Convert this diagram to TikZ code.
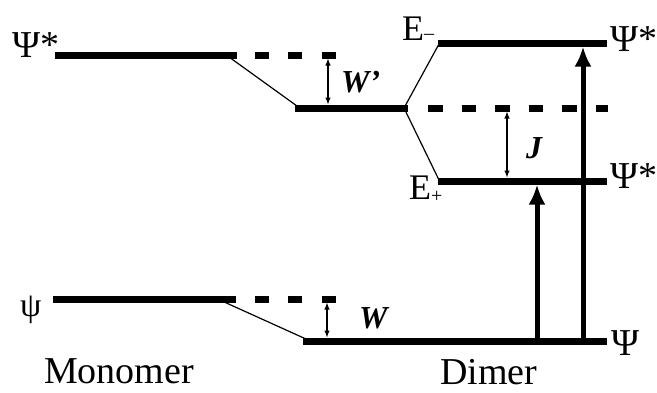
\documentclass[tikz,border=0pt]{standalone}
\usepackage{fontspec}
\setmainfont{Liberation Serif}
\usetikzlibrary{arrows.meta}
\begin{document}
\begin{tikzpicture}[x=1pt,y=-1pt,
  level/.style={line width=7pt},
  sidedash/.style={line width=7pt, dash pattern=on 14pt off 19.3pt},
  middash/.style={line width=7pt, dash pattern=on 14.5pt off 19pt},
  link/.style={line width=1.2pt},
  gap/.style={line width=1.1pt, {Latex[length=7pt,width=5.5pt]}-{Latex[length=7pt,width=5.5pt]}},
  excite/.style={line width=5pt, -{Latex[length=20pt,width=17pt]}},
  lbl/.style={inner sep=0pt, anchor=base west, font=\fontsize{38}{38}\selectfont},
  elbl/.style={inner sep=0pt, anchor=base west, font=\fontsize{36}{36}\selectfont},
  energy/.style={inner sep=0pt, anchor=base west, font=\fontsize{32}{32}\selectfont\bfseries\itshape}
]
\useasboundingbox (0,0) rectangle (657,392);

% level end points
\coordinate (mxL) at (55,55);   \coordinate (mxR) at (237,55);
\coordinate (mxA) at (255,55);  \coordinate (mxB) at (336,55);
\coordinate (mgL) at (53,299);  \coordinate (mgR) at (236,299);
\coordinate (mgA) at (255,299); \coordinate (mgB) at (336,299);
\coordinate (dmL) at (295,108); \coordinate (dmR) at (408,108);
\coordinate (dmA) at (428,108); \coordinate (dmB) at (608,108);
\coordinate (emL) at (438,43);  \coordinate (emR) at (607,43);
\coordinate (epL) at (438,181); \coordinate (epR) at (607,181);
\coordinate (dgL) at (303,341); \coordinate (dgR) at (607,341);

% correlation line ends
\coordinate (mxK) at (229,57);  \coordinate (dmK) at (297,106);
\coordinate (mgK) at (222,301); \coordinate (dgK) at (306,339);
\coordinate (dmS) at (404,108); \coordinate (emK) at (439,44);
\coordinate (epK) at (439,180);

% gap arrow ends
\coordinate (wpT) at (328,58.5);  \coordinate (wpB) at (328,104.5);
\coordinate (jT)  at (507,111.5); \coordinate (jB)  at (507,177.5);
\coordinate (wT)  at (327,302.5); \coordinate (wB)  at (327,337.5);

% transitions
\coordinate (a1S) at (537,341); \coordinate (a1E) at (537,184.5);
\coordinate (a2S) at (583,341); \coordinate (a2E) at (583,46.5);

% energy levels
\draw[level] (mxL) -- (mxR);
\draw[sidedash] (mxA) -- (mxB);
\draw[level] (mgL) -- (mgR);
\draw[sidedash] (mgA) -- (mgB);
\draw[level] (dmL) -- (dmR);
\draw[middash] (dmA) -- (dmB);
\draw[level] (emL) -- (emR);
\draw[level] (epL) -- (epR);
\draw[level] (dgL) -- (dgR);

% correlation lines
\draw[link] (mxK) -- (dmK);
\draw[link] (mgK) -- (dgK);
\draw[link] (dmS) -- (emK);
\draw[link] (dmS) -- (epK);

% energy shifts
\draw[gap] (wpT) -- (wpB);
\draw[gap] (jT) -- (jB);
\draw[gap] (wT) -- (wB);

% absorption arrows
\draw[excite] (a1S) -- (a1E);
\draw[excite] (a2S) -- (a2E);

% labels
\node[lbl] (tmx) at (12,57) {Ψ*};
\node[inner sep=0pt, anchor=base west, font=\fontsize{34}{34}\selectfont] (tmg) at (20,316) {ψ};
\node[elbl] (tem) at (402,40) {E\raisebox{1pt}{\fontsize{20}{20}\selectfont –}};
\node[elbl] (tep) at (409,199) {E\raisebox{-3pt}{\fontsize{20}{20}\selectfont +}};
\node[lbl] (trm) at (610,51) {Ψ*};
\node[lbl] (trp) at (610,188) {Ψ*};
\node[lbl] (trg) at (611,355) {Ψ};
\node[energy] (twp) at (341,92) {W’};
\node[energy] (tj) at (526,158) {J};
\node[energy] (tw) at (359,328) {W};
\node[lbl] (tmono) at (44,383) {Monomer};
\node[lbl] (tdim) at (440,384) {Dimer};
\end{tikzpicture}
\end{document}
